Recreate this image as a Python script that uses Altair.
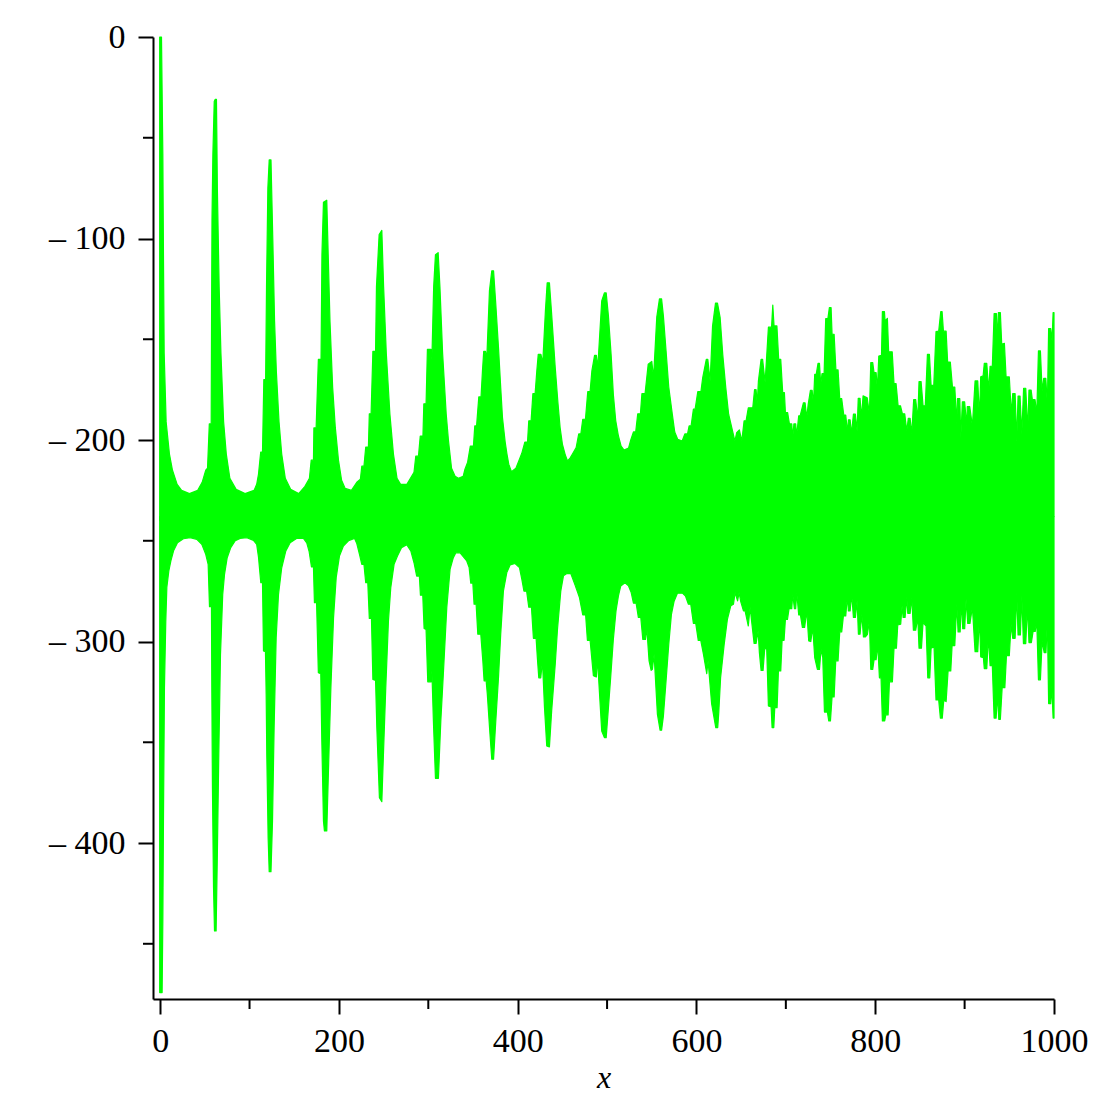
import altair as alt
import pandas as pd

# Upper envelope of the oscillation, (x, y)
upper_points = [
(-0.5,-240),(-0.5,0),(1.5,0),(3,-58),(3.7,-108),(4.5,-157),(6.7,-191),(10.4,-207),(13.8,-215),(19,-222),(24,-225),(32.8,-226.6),(42,-225),(47,-221),(51,-215),(53,-214),(55,-192),(57.1,-192),(57.5,-141),(58,-91),(59,-58),(60.5,-32),(61.5,-31),(63,-31),(64,-75),(66,-124),(68,-157),(71,-191),(74,-207),(78,-219),(85,-224.5),(95,-226.6),(105,-225),(108,-222),(110,-217),(112.5,-206),(114.5,-206),(116,-170),(118,-170),(119,-124),(120.5,-75),(122,-61),(124,-61),(126,-100),(128,-141),(130,-166),(133,-191),(136,-207),(140,-219),(146,-224.5),(155,-226.6),(162,-223),
(167,-219),(169,-210),(171.5,-210),(172,-194),(174.5,-194),(177,-160),(180,-160),(181,-108),(182.7,-82),(186.4,-81),(188,-108),(190,-141),(193,-174),(196,-194),(199.5,-210),(203,-220),(207,-224),(214,-225),(220,-221),(224,-219.5),(225.6,-213),(228,-213),(230,-203.5),(233,-203.5),(234,-187),(236,-187),(238,-156),(241,-156),(242,-124),(245,-98),(248,-96),(250,-124),(253,-157),(257,-187),(261,-207),(265,-219),(269,-222),(276,-222),(280,-219),(284,-216),(286,-208),(289,-208),(291,-198),(294,-198),(295,-182),(297.5,-182),(299,-155),(303,-155),(304,-160),(306,-124),(308,-108),(311,-107),(313,-124),(316,-157),(320,-187),(322.5,-200),
(326,-214),(330,-218),(333.7,-219),(339,-218),(341,-214.5),(344,-211),(347,-203),(350.5,-203),(352,-193),(354,-193),(356.5,-178.6),(359,-178.6),(360.6,-165.7),(362,-156),(364,-156),(365.4,-160),(368.4,-126),(371,-116),(373,-116),(375.5,-132.6),(378.5,-154),(381,-174),(383,-189),(386,-201),(388,-207),(390,-212),(393,-215.7),(398,-214),(401,-210.7),(404.6,-206.6),(408,-201),(411,-201),(412.4,-190.5),(415,-190.5),(417,-177),(419.5,-177),(421.4,-165.7),(423,-157.5),(426,-157.5),(428,-162),(431,-136),(433,-122),(435.5,-122),(438,-137.6),(442,-164),(445,-181.4),(447.5,-194),(450,-202),(453,-207),(455.7,-210.4),(458.6,-209),(461.6,-206.7),(465.4,-203.8),(468.3,-197),(470.6,-197),(472.8,-189.7),(475.8,-189.7),(478.4,-176),(481,-176),(483,-165.7),(486,-158),(488,-158),(489.6,-164),(494,-131),(497,-127),(499,-127),(501.5,-138.4),(504.5,-157.5),(507,-177.3),(509.7,-190.5),(512.7,-198),(515.7,-203),(519,-205),(524,-204),(526.5,-200),(529.5,-196),(532,-196),(534.3,-187),(537.3,-187),(539,-177),(542.5,-177),(546,-162.4),(550,-161),(552,-169),(555.6,-139),(558.6,-130),(561,-130),(563,-138.4),(566,-155.8),(569,-173.7),(573,-187.2),(575.7,-196),(579,-199.6),(584,-200.5),(587,-197),(590,-197),(591.8,-193),(594,-193),(596.6,-184.7),(598.5,-184.7),(601.5,-176),(605,-176),(607,-169),(611,-160),(612.7,-160),(615.3,-170.7),(618,-143.4),(621.3,-132),(623.5,-132),(626.5,-139.3),(629.4,-157.5),(632.8,-174),(636,-187.2),(639.5,-193.8),(643,-200.5),(645,-196.3),(648,-195),(650.7,-200.5),(653.3,-190.5),(655.5,-190.5),(658,-184),(660.7,-184),
(663,-184),(665,-175),(666.7,-175),(668,-182),(669.3,-170.7),(672.3,-160),(674,-160),(676.8,-171.5),(680.5,-144),(684,-144),(685.4,-133),(686.8,-143.4),(690,-143.4),(692,-160),(694.3,-160),(696.5,-176.5),(698.4,-176.5),(699.5,-186.4),(702,-186.4),(704,-192),(706.6,-192),(707.7,-199),(709,-192),(711,-192),(712,-198),(714.4,-188),(716,-188),(719.7,-181.5),(721.5,-181.5),(723.4,-189),(725,-182.3),(727.5,-175.3),(729.4,-175.3),(730.9,-182),(732.3,-167.4),(734,-167.4),(736,-162),(737.6,-162),(739,-172.4),(740.5,-167),(742.8,-167),(744.6,-139.8),(747,-139.8),(748.7,-134.3),(750.6,-134.3),(751.7,-147.5),(754,-147.5),(756,-165.2),(758.4,-165.2),(760.3,-179.5),(762.5,-179.5),(764.8,-187.6),(767,-187.6),(769,-196.3),(770,-190),(771.9,-190),(773.4,-197),(775.6,-187.2),(777.8,-187.2),(779.7,-195.5),(781,-179.3),(783,-179.3),(784.6,-189),(786.4,-178.1),(791,-179),(793.5,-187),(795,-161.6),(797.2,-161.6),(798.7,-166.6),(801,-166.6),(802.4,-175),(804,-158.3),(807,-158),(808,-136.3),(810.3,-136.3),(811,-141),(813.6,-139.6),(815,-156.2),(819,-156.2),(821,-172),(823.3,-172),(825.6,-183),(828.2,-183),(830.4,-187),(833,-187),(835.3,-195.5),(837,-189.2),(839,-189.2),(840.9,-197),(843,-180),(845.3,-180),(847.6,-189.7),(849,-171),(851.3,-171),(853.5,-183),(856,-183),(858.4,-157.5),(860.6,-157.5),(862.5,-173),(865.5,-172.7),(868,-146.2),(871,-146),(873.3,-136.3),(874.8,-136.3),(876.3,-146),(879.3,-146),(881,-161.3),(884,-161.3),(886.4,-173.7),(889,-173.7),(891.2,-192),(892,-179.5),(894.6,-179.5),(895.7,-199),(897.5,-181),(900,-181),(902.4,-193),(903,-183.4),(905.7,-183.4),(908.7,-193),(911.7,-170.7),(914.7,-170.7),(916.6,-189),(918,-168.6),(920.7,-168.2),(922,-162),(924.8,-162),(927,-175.7),(928.5,-163.4),(931,-163.4),(933,-137.3),(935.6,-137.3),(936.7,-150.9),(937.8,-136.8),(940,-136.8),(941.5,-152.5),(944.5,-152),(946.4,-168.7),(950,-168.7),(952.3,-187.2),(953.8,-177),(956.5,-177),(958.3,-200.5),(959.8,-178.2),(962,-178.2),(964,-197),(966,-174.3),(968.4,-174.3),(970.6,-195.5),(972,-175.2),(974.4,-175.2),(975.8,-180),(978.8,-180),(980.7,-187.2),(982.6,-155.8),(984.8,-155.8),(986.7,-175.7),(988.5,-169.4),(990.8,-169.4),(992.6,-182.3),(994,-144.7),(996.3,-144.7),(997.8,-150.9),(999,-136.8),(1000,-136.8),
]

# Lower envelope of the oscillation, (x, y)
lower_points = [
(-0.5,-240),(-0.5,-474.2),(2.2,-474.2),(3,-438.7),(3.7,-389),(4.8,-323),(6.3,-290),(7.5,-273),(9.7,-265),(12,-260),(15,-255),(19.4,-251),(26,-249),(33.6,-248.5),(41,-249.3),(46.6,-251.8),(51,-256.7),(53.7,-261.7),(55.2,-282.7),(57.4,-282.7),(57.8,-323),(58.5,-372.5),(59.7,-422),(60.8,-443.6),(62.6,-443.6),(64,-405.6),(65.6,-356),(67.5,-306.4),(70,-276.6),(72,-266.7),(75,-258.4),(79,-253.4),(84,-250),(89.5,-248.8),(97,-248.5),(104.4,-249.8),(108,-251.8),(110,-258),(112.6,-270.8),(114.5,-270.8),(115.6,-304.7),(117.8,-305),(118.6,-326),(119.3,-356),(120.8,-397.3),(122,-414.2),(124,-414.2),(125.7,-389),(127.5,-342.7),(129.8,-298),(132.4,-276.6),(136,-263.4),(140.6,-255),(145.4,-251),(153,-248.8),(160.3,-248.8),(164,-251),(166.7,-255.4),(169.3,-263),(171.5,-263),(172.6,-280.7),(175,-280.7),(177,-315.5),(179.7,-316),(180.8,-347.7),(182.7,-389),(183.8,-394),(186.4,-394),(188.3,-364),(191,-323),(194,-288),(197,-268),(200.6,-257.6),(205,-252.6),(210.7,-250),(217.4,-248.8),(220,-251.4),(223,-256.7),(225.6,-261.7),(228,-261.7),(230,-270.8),(232.3,-270.8),(234,-288.5),(236.4,-288.5),(238,-318.8),(241,-319.3),(242.4,-342.7),(245.3,-377.5),(248,-379.5),(249.8,-356),(252.4,-323),(255.4,-289.8),(258,-273.3),(261.7,-261.7),(265.5,-257.6),(270,-253.4),(276,-252),(280.4,-255),(284,-260.9),(287,-267.5),(290,-267.5),(291.2,-277),(293.8,-277),(295.3,-293.5),(297.5,-294),(299.4,-320),(303,-320),(304,-314.6),(305.7,-339.4),(308,-367.9),(311.3,-367.9),(314,-339.4),(317,-314.6),(320.7,-283),(324.4,-264),(328,-258.4),(330.7,-256),(335.6,-256),
(343,-260),(345.7,-263.3),(347.5,-271),(349.8,-271),(351.2,-281.5),(353.5,-281.5),(355.4,-296.4),(358.7,-296.4),(361,-309.6),(362.4,-319.5),(364.7,-319.5),(366,-326),(369,-346),(371,-358.4),(373,-358.4),(375.5,-339.4),(378.5,-318),(381,-296.4),(384,-275),(387.8,-265.8),(391.5,-262),(397,-261.3),(402,-263.3),(404.6,-269),(407,-275),(410,-275),(412.4,-283),(415.4,-283),(417.6,-298.4),(420.6,-298.4),(422,-308),(423.6,-318),(425.8,-318),(427.7,-309.6),(430,-332.8),(432.5,-351.8),(435.5,-352.3),(438,-334.4),(442,-311.3),(444.5,-294),(448.2,-275),(451.2,-267.4),(455,-266.3),(459.4,-266.3),(464.2,-272),(469,-278),(472.8,-286.8),(476,-286.8),(478,-299.4),(481,-299.4),(484.7,-317),(488,-317.6),(489.2,-308),(494,-344.4),(497,-347.7),(499,-347.7),(501,-336),(504,-318),(507,-299),(510,-284.8),(512.7,-277.4),(515.3,-272.4),(520,-270.8),(524,-272.4),(527,-275.7),(529.5,-281),(532.5,-281),(535,-288),(537.7,-288),(540,-299),(543,-299),(544.4,-293),(547,-309.6),(549.3,-314.3),(550.7,-313.8),(552.6,-306.3),(556.3,-336),(559.3,-344),(561,-344),(563,-337),(566,-319.5),(569,-301.4),(572,-286.5),(575,-280),(578.7,-276),(584.3,-276),(587.7,-277.4),(591,-281.5),(593.6,-281.5),(596.6,-291),(599.2,-291),(602,-299.4),(604.8,-299.4),(607.8,-306.3),(611.5,-316),(613,-309.6),(617,-331),(621.6,-342.7),(623.8,-342.7),(625,-335),(627,-318),(631,-301.4),(634.6,-289),(638.4,-282.3),(641.4,-281.5),(643.2,-275.7),(646,-279.8),(647.7,-275.7),(649.6,-280.3),(652.6,-284.8),(654.4,-284.8),(658,-292.3),(660,-283),
(661.9,-290.6),(664.5,-300.9),(666.7,-300.9),(669,-294.7),(670.4,-305.5),(672.3,-314.3),(674.5,-314.3),(676.4,-303.3),(678.6,-303.8),(680.5,-332),(683.5,-332.4),(684.6,-342.7),(686.5,-342.7),(687.6,-332.8),(690.2,-332.8),(691.7,-314.6),(694.3,-314.6),(695.8,-299.4),(698,-299.4),(699.5,-289),(701.8,-289),(703.6,-283.7),(706.6,-283.7),(707.7,-276.5),(709.6,-283.7),(711,-283.7),(712.2,-275.7),(714.4,-286.8),(716.3,-286.8),(718.5,-293),(721,-293),(723.4,-284.8),(725.6,-299.7),(727.9,-300),(730.1,-293),(732.3,-308),(735.3,-313.8),(737.6,-313.8),(739.4,-303.8),(741.3,-308),(743.2,-335),(746.5,-335),(748,-339.4),(749.9,-339.4),(751.7,-327.5),(754,-327.5),(755.8,-309.6),(758.4,-309.6),(760.3,-295.2),(762.5,-295.2),(764.4,-287.3),(767,-287.3),(768.9,-277.4),(770,-284.8),(771.9,-284.8),(773.7,-276.5),(775.6,-288),(777.8,-288),(779.7,-279.8),(781.2,-296.4),(783,-296.4),(785,-286.5),(786.8,-297.7),(789,-297.7),(791.3,-296.4),(793.5,-289.8),(795,-313.8),(797.2,-313.8),(798.7,-309),(801,-309),(802.8,-301.4),(804.7,-318),(806.5,-318),(808,-339.4),(810.6,-339.4),(811.8,-336.4),(814.4,-336.4),(815.9,-320),(819.2,-320),(821,-303.3),(823.7,-303.3),(825.2,-291.8),(828.5,-291.4),(830,-282.3),(831.2,-288),(833.4,-288),(835.3,-277.9),(836.4,-286),(839,-286),(840.9,-278.2),(842.7,-294.4),(845.3,-294.4),(847.6,-288),(849,-303.3),(851.7,-303.3),(853.5,-290.6),(856.9,-292.3),(858.8,-318),(861,-318),(862.5,-303.3),(865.8,-302.7),(868,-329),(871,-329),(872.9,-338),(875,-338),(876.7,-329),(879.3,-329.8),(881.5,-314.6),(884.5,-314.6),(886,-302),(889,-302),(891.2,-281.5),(892.7,-295.2),(895,-295.2),(896.4,-279.8),(897.9,-293.6),(900.1,-293.6),(901.6,-279),(903.5,-291),(906,-291),(908.7,-283),(911.7,-305),(914.7,-305),(916.6,-288),(918,-307.6),(921,-308),(922,-313.4),(924.8,-313.4),(926.6,-297.2),(928.5,-312),(931,-312),(933,-338),(935.2,-338),(937,-326.2),(938.2,-338.6),(940,-338.6),(942,-322.9),(945,-322.9),(946.8,-307),(950,-307),(952,-291.4),(953.8,-298.4),(956.5,-298.4),(958.3,-275.7),(959.8,-296.7),(962.4,-296.7),(964,-277.4),(965.8,-301),(968.4,-301),(970.3,-282.3),(972,-300.5),(974.7,-300.5),(976.6,-295),(979,-295),(980.7,-289.8),(982.6,-319),(984.8,-319),(986.7,-299.7),(989,-305.5),(991,-305.5),(992.6,-289.8),(994,-330.8),(996.3,-330.8),(997.5,-322),(999,-338),(1000,-338),
]

center_value = -238
x_major = [0, 200, 400, 600, 800, 1000]
x_minor = [100, 300, 500, 700, 900]
y_major = [0, -100, -200, -300, -400]
y_minor = [-50, -150, -250, -350, -450]

upper = pd.DataFrame(upper_points, columns=["x", "y"]).assign(c=center_value)
lower = pd.DataFrame(lower_points, columns=["x", "y"]).assign(c=center_value)

FONT = "Liberation Serif"
GREEN = "#00FF00"

x_scale = alt.Scale(domain=[-8, 1000], nice=False, zero=False)
y_scale = alt.Scale(domain=[-477.4, 0], nice=False, zero=False)

x_axis = alt.Axis(
    values=x_major, grid=False, title="x", titleFont=FONT, titleFontStyle="italic",
    titleFontWeight="normal", titleFontSize=32, titleColor="black", titlePadding=4,
    labelFont=FONT, labelFontSize=34, labelColor="black", labelPadding=10,
    labelOverlap=False, labelFlush=False,
    format="d", domainColor="black", domainWidth=2, tickColor="black", tickWidth=2, tickSize=15,
)
y_axis = alt.Axis(
    values=y_major, grid=False, title="",
    labelFont=FONT, labelFontSize=34, labelColor="black", labelPadding=13,
    labelExpr="datum.value == 0 ? '0' : '– ' + abs(datum.value)",
    labelOverlap=False, labelFlush=False,
    domainColor="black", domainWidth=2, tickColor="black", tickWidth=2, tickSize=15,
)

def band(df):
    return alt.Chart(df).mark_area(color=GREEN, stroke=GREEN, strokeWidth=1.2, strokeJoin="round", opacity=1).encode(
        x=alt.X("x:Q", scale=x_scale, axis=x_axis),
        y=alt.Y("y:Q", scale=y_scale, axis=y_axis),
        y2="c:Q",
    )

x_minor_ticks = alt.Chart(pd.DataFrame({"x": x_minor})).mark_rule(color="black", strokeWidth=2).encode(
    x=alt.X("x:Q", scale=x_scale, axis=x_axis), y=alt.value(962), y2=alt.value(972),
)
y_minor_ticks = alt.Chart(pd.DataFrame({"y": y_minor})).mark_rule(color="black", strokeWidth=2).encode(
    y=alt.Y("y:Q", scale=y_scale, axis=y_axis), x=alt.value(-10), x2=alt.value(0),
)

chart = alt.layer(band(upper), band(lower), x_minor_ticks, y_minor_ticks).properties(
    width=901, height=962,
    padding={"left": 40, "top": 12, "right": 5, "bottom": 5},
).configure_view(stroke=None)

chart.save("out.html", embed_options={"renderer": "svg", "actions": False})
